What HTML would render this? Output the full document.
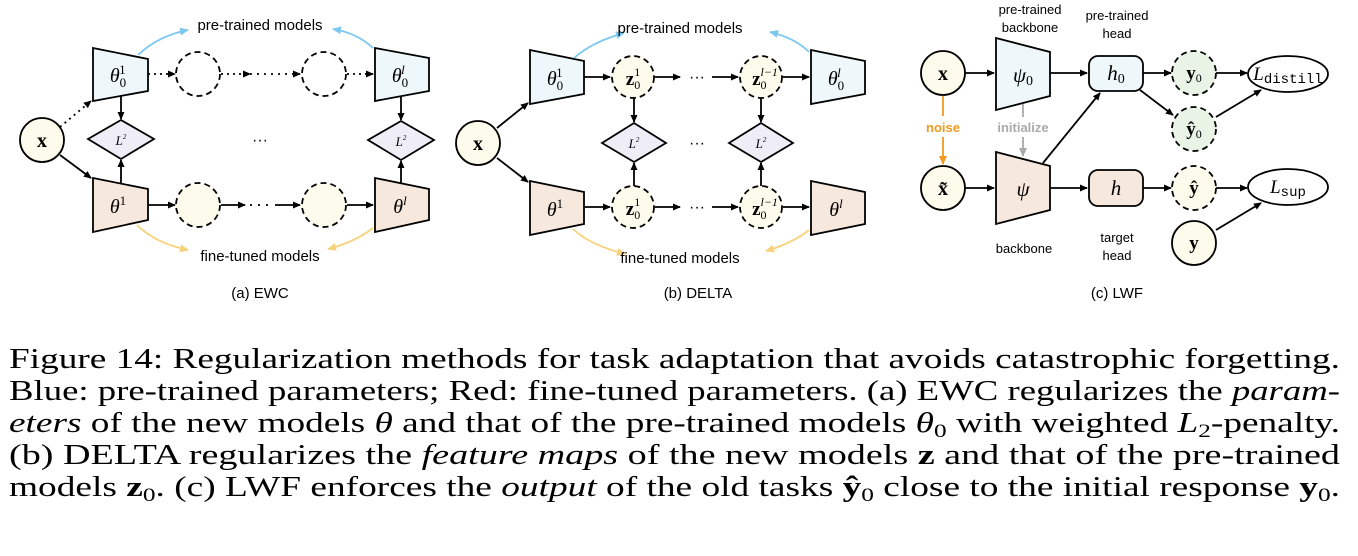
<!DOCTYPE html>
<html><head><meta charset="utf-8"><style>
html,body{margin:0;padding:0;background:#fff;}
svg{display:block;}
.s{font-family:"Liberation Sans",sans-serif;}
.m{font-family:"Liberation Serif",serif;font-style:italic;}
.b{font-family:"Liberation Serif",serif;font-weight:bold;}
.cap{font-family:"Liberation Serif",serif;font-size:28px;}
</style></head><body>
<svg width="1358" height="556" viewBox="0 0 1358 556" xmlns="http://www.w3.org/2000/svg">
<defs>
<marker id="a" markerWidth="8" markerHeight="8" refX="7" refY="4" orient="auto" markerUnits="userSpaceOnUse"><path d="M0,0.5 L8,4 L0,7.5 Z" fill="#000"/></marker>
<marker id="ab" markerWidth="10" markerHeight="10" refX="8" refY="5" orient="auto" markerUnits="userSpaceOnUse"><path d="M0,1 L9,5 L0,9 Z" fill="#7cc8f0"/></marker>
<marker id="ay" markerWidth="10" markerHeight="10" refX="8" refY="5" orient="auto" markerUnits="userSpaceOnUse"><path d="M0,1 L9,5 L0,9 Z" fill="#f8d27a"/></marker>
<marker id="ao" markerWidth="10" markerHeight="10" refX="8" refY="5" orient="auto" markerUnits="userSpaceOnUse"><path d="M0,1 L9,5 L0,9 Z" fill="#f39a1e"/></marker>
<marker id="ag" markerWidth="10" markerHeight="10" refX="8" refY="5" orient="auto" markerUnits="userSpaceOnUse"><path d="M0,1 L9,5 L0,9 Z" fill="#aaa"/></marker>
</defs>
<g stroke="#000" stroke-width="1.8" fill="none">
<!-- Panel a -->
<circle cx="42" cy="140" r="22" fill="#fdfbeb"/>
<polygon points="93,48 148,59 148,91 93,101" fill="#eef7fa"/>
<polygon points="375,48 429,58 429,91 375,101" fill="#eef7fa"/>
<polygon points="93,178 148,189 148,220 93,232" fill="#f7e8de"/>
<polygon points="375,178 429,189 429,220 375,232" fill="#f7e8de"/>
<circle cx="198" cy="74" r="22" stroke-dasharray="6,4"/>
<circle cx="324" cy="74" r="22" stroke-dasharray="6,4"/>
<circle cx="198" cy="205" r="22" fill="#fdfbeb" stroke-dasharray="6,4"/>
<circle cx="324" cy="205" r="22" fill="#fdfbeb" stroke-dasharray="6,4"/>
<polygon points="88,139 121,120 154,139 121,159" fill="#efedf5"/>
<polygon points="368,140 401,121 434,140 401,160" fill="#efedf5"/>
<line x1="60" y1="127" x2="91" y2="101" stroke-dasharray="2,4" marker-end="url(#a)"/>
<line x1="60" y1="155" x2="91" y2="178" marker-end="url(#a)"/>
<line x1="148" y1="74" x2="175" y2="74" stroke-dasharray="2,4" marker-end="url(#a)"/>
<line x1="221" y1="74" x2="250" y2="74" stroke-dasharray="2,4" marker-end="url(#a)"/>
<line x1="250" y1="74" x2="300" y2="74" stroke-dasharray="2,5" marker-end="url(#a)"/>
<line x1="347" y1="74" x2="373" y2="74" stroke-dasharray="2,4" marker-end="url(#a)"/>
<line x1="148" y1="205" x2="175" y2="205" marker-end="url(#a)"/>
<line x1="221" y1="205" x2="245" y2="205" marker-end="url(#a)"/>
<line x1="250" y1="205" x2="272" y2="205" stroke-dasharray="2,6"/>
<line x1="275" y1="205" x2="300" y2="205" marker-end="url(#a)"/>
<line x1="347" y1="205" x2="373" y2="205" marker-end="url(#a)"/>
<line x1="121" y1="96" x2="121" y2="119" marker-end="url(#a)"/>
<line x1="121" y1="183" x2="121" y2="160" marker-end="url(#a)"/>
<line x1="401" y1="96" x2="401" y2="120" marker-end="url(#a)"/>
<line x1="401" y1="183" x2="401" y2="161" marker-end="url(#a)"/>
<path d="M138,55 Q158,36 188,30" stroke="#7cc8f0" marker-end="url(#ab)"/>
<path d="M373,48 Q357,33 333,29" stroke="#7cc8f0" marker-end="url(#ab)"/>
<path d="M137,225 Q155,243 188,250" stroke="#f8d27a" marker-end="url(#ay)"/>
<path d="M373,228 Q355,242 328,249" stroke="#f8d27a" marker-end="url(#ay)"/>
<!-- Panel b -->
<circle cx="478" cy="143" r="22" fill="#fdfbeb"/>
<polygon points="530,50 584,61 584,94 530,104" fill="#eef7fa"/>
<polygon points="811,50 865,61 865,94 811,104" fill="#eef7fa"/>
<polygon points="530,181 584,192 584,224 530,235" fill="#f7e8de"/>
<polygon points="811,181 865,192 865,224 811,235" fill="#f7e8de"/>
<circle cx="633" cy="77" r="21" fill="#fdfbeb" stroke-dasharray="6,4"/>
<circle cx="761" cy="77" r="21" fill="#fdfbeb" stroke-dasharray="6,4"/>
<circle cx="633" cy="207" r="21" fill="#fdfbeb" stroke-dasharray="6,4"/>
<circle cx="761" cy="207" r="21" fill="#fdfbeb" stroke-dasharray="6,4"/>
<polygon points="602,143 634,123 666,143 634,162" fill="#efedf5"/>
<polygon points="729,143 761,123 793,143 761,162" fill="#efedf5"/>
<line x1="497" y1="128" x2="528" y2="103" marker-end="url(#a)"/>
<line x1="497" y1="158" x2="528" y2="182" marker-end="url(#a)"/>
<line x1="584" y1="77" x2="610" y2="77" marker-end="url(#a)"/>
<line x1="655" y1="77" x2="680" y2="77" marker-end="url(#a)"/>
<line x1="712" y1="77" x2="738" y2="77" marker-end="url(#a)"/>
<line x1="783" y1="77" x2="809" y2="77" marker-end="url(#a)"/>
<line x1="584" y1="207" x2="610" y2="207" marker-end="url(#a)"/>
<line x1="655" y1="207" x2="680" y2="207" marker-end="url(#a)"/>
<line x1="712" y1="207" x2="738" y2="207" marker-end="url(#a)"/>
<line x1="783" y1="207" x2="809" y2="207" marker-end="url(#a)"/>
<line x1="634" y1="98" x2="634" y2="122" marker-end="url(#a)"/>
<line x1="634" y1="186" x2="634" y2="163" marker-end="url(#a)"/>
<line x1="761" y1="98" x2="761" y2="122" marker-end="url(#a)"/>
<line x1="761" y1="186" x2="761" y2="163" marker-end="url(#a)"/>
<path d="M574,58 Q592,42 624,33" stroke="#7cc8f0" marker-end="url(#ab)"/>
<path d="M809,52 Q795,38 770,32" stroke="#7cc8f0" marker-end="url(#ab)"/>
<path d="M573,229 Q590,245 625,254" stroke="#f8d27a" marker-end="url(#ay)"/>
<path d="M809,230 Q793,243 766,251" stroke="#f8d27a" marker-end="url(#ay)"/>
<!-- Panel c -->
<circle cx="943" cy="73" r="22" fill="#fdfbeb"/>
<circle cx="943" cy="188" r="22" fill="#fdfbeb"/>
<polygon points="996,38 1050,52 1050,96 996,110" fill="#eef7fa"/>
<polygon points="996,152 1050,166 1050,210 996,224" fill="#f7e8de"/>
<rect x="1089" y="56" width="54" height="35" rx="9" fill="#eef7fa"/>
<rect x="1089" y="170" width="54" height="36" rx="9" fill="#f7e8de"/>
<circle cx="1194" cy="73" r="22" fill="#eaf4e6" stroke-dasharray="6,4"/>
<circle cx="1194" cy="129" r="22" fill="#eaf4e6" stroke-dasharray="6,4"/>
<circle cx="1194" cy="188" r="22" fill="#fdfbeb" stroke-dasharray="6,4"/>
<circle cx="1194" cy="243" r="22" fill="#fdfbeb"/>
<ellipse cx="1288" cy="74" rx="40" ry="18" fill="#fff"/>
<ellipse cx="1288" cy="187" rx="40" ry="18" fill="#fff"/>
<line x1="965" y1="73" x2="994" y2="73" marker-end="url(#a)"/>
<line x1="965" y1="188" x2="994" y2="188" marker-end="url(#a)"/>
<line x1="1050" y1="73" x2="1087" y2="73" marker-end="url(#a)"/>
<line x1="1050" y1="188" x2="1087" y2="188" marker-end="url(#a)"/>
<line x1="1043" y1="163" x2="1100" y2="93" marker-end="url(#a)"/>
<line x1="1143" y1="73" x2="1171" y2="73" marker-end="url(#a)"/>
<line x1="1140" y1="90" x2="1173" y2="115" marker-end="url(#a)"/>
<line x1="1143" y1="188" x2="1171" y2="188" marker-end="url(#a)"/>
<line x1="1216" y1="73" x2="1247" y2="73" marker-end="url(#a)"/>
<line x1="1216" y1="117" x2="1261" y2="90" marker-end="url(#a)"/>
<line x1="1216" y1="188" x2="1247" y2="188" marker-end="url(#a)"/>
<line x1="1216" y1="230" x2="1261" y2="203" marker-end="url(#a)"/>
<line x1="943" y1="96" x2="943" y2="116" stroke="#f39a1e"/>
<line x1="943" y1="137" x2="943" y2="164" stroke="#f39a1e" marker-end="url(#ao)"/>
<line x1="1023" y1="104" x2="1023" y2="117" stroke="#aaa"/>
<line x1="1023" y1="137" x2="1023" y2="156" stroke="#aaa" marker-end="url(#ag)"/>
</g>
<g fill="#000" text-anchor="middle">
<text class="s" x="260" y="30" font-size="15">pre-trained models</text>
<text class="s" x="260" y="261" font-size="15">fine-tuned models</text>
<text class="s" x="260" y="298" font-size="15">(a) EWC</text>
<text class="s" x="260" y="145" font-size="16">···</text>
<text class="b" x="42" y="147" font-size="20">x</text>
<text class="m" x="118" y="82" font-size="20">θ<tspan font-size="13" font-style="normal" dy="5">0</tspan><tspan font-size="13" font-style="normal" dx="-7" dy="-13">1</tspan></text>
<text class="m" x="400" y="82" font-size="20">θ<tspan font-size="13" font-style="normal" dy="5">0</tspan><tspan font-size="13" dx="-7" dy="-13">l</tspan></text>
<text class="m" x="118" y="213" font-size="20">θ<tspan font-size="13" font-style="normal" dy="-8">1</tspan></text>
<text class="m" x="400" y="213" font-size="20">θ<tspan font-size="13" dy="-8">l</tspan></text>
<text class="m" x="121" y="145" font-size="13">L<tspan font-size="7" dy="-6">2</tspan></text>
<text class="m" x="401" y="146" font-size="13">L<tspan font-size="7" dy="-6">2</tspan></text>
<text class="s" x="680" y="33" font-size="15">pre-trained models</text>
<text class="s" x="680" y="263" font-size="15">fine-tuned models</text>
<text class="s" x="698" y="298" font-size="15">(b) DELTA</text>
<text class="s" x="697" y="148" font-size="16">···</text>
<text class="s" x="697" y="82" font-size="16">···</text>
<text class="s" x="697" y="212" font-size="16">···</text>
<text class="b" x="478" y="150" font-size="20">x</text>
<text class="m" x="555" y="85" font-size="20">θ<tspan font-size="13" font-style="normal" dy="5">0</tspan><tspan font-size="13" font-style="normal" dx="-7" dy="-13">1</tspan></text>
<text class="m" x="836" y="85" font-size="20">θ<tspan font-size="13" font-style="normal" dy="5">0</tspan><tspan font-size="13" dx="-7" dy="-13">l</tspan></text>
<text class="m" x="555" y="216" font-size="20">θ<tspan font-size="13" font-style="normal" dy="-8">1</tspan></text>
<text class="m" x="836" y="216" font-size="20">θ<tspan font-size="13" dy="-8">l</tspan></text>
<text class="b" x="633" y="85" font-size="19">z<tspan font-size="12" font-weight="normal" dy="4">0</tspan><tspan font-size="12" font-weight="normal" dx="-6" dy="-13">1</tspan></text>
<text class="b" x="633" y="215" font-size="19">z<tspan font-size="12" font-weight="normal" dy="4">0</tspan><tspan font-size="12" font-weight="normal" dx="-6" dy="-13">1</tspan></text>
<text class="b" x="765" y="85" font-size="19">z<tspan font-size="12" font-weight="normal" dy="4">0</tspan><tspan font-size="12" font-weight="normal" font-style="italic" dx="-6" dy="-13">l−1</tspan></text>
<text class="b" x="765" y="215" font-size="19">z<tspan font-size="12" font-weight="normal" dy="4">0</tspan><tspan font-size="12" font-weight="normal" font-style="italic" dx="-6" dy="-13">l−1</tspan></text>
<text class="m" x="634" y="148" font-size="13">L<tspan font-size="7" dy="-6">2</tspan></text>
<text class="m" x="761" y="148" font-size="13">L<tspan font-size="7" dy="-6">2</tspan></text>
<text class="s" x="1030" y="14" font-size="13">pre-trained</text>
<text class="s" x="1030" y="32" font-size="13">backbone</text>
<text class="s" x="1117" y="20" font-size="13">pre-trained</text>
<text class="s" x="1117" y="38" font-size="13">head</text>
<text class="s" x="943" y="132" font-size="13" fill="#f39a1e" font-weight="bold">noise</text>
<text class="s" x="1023" y="132" font-size="13" fill="#aaa" font-weight="bold">initialize</text>
<text class="s" x="1024" y="253" font-size="13">backbone</text>
<text class="s" x="1117" y="242" font-size="13">target</text>
<text class="s" x="1117" y="260" font-size="13">head</text>
<text class="s" x="1117" y="298" font-size="15">(c) LWF</text>
<text class="b" x="943" y="80" font-size="20">x</text>
<text class="b" x="943" y="195" font-size="20">x̃</text>
<text class="m" x="1023" y="82" font-size="21">ψ<tspan font-size="14" font-style="normal" dy="3">0</tspan></text>
<text class="m" x="1023" y="196" font-size="21">ψ</text>
<text class="m" x="1116" y="80" font-size="21">h<tspan font-size="14" font-style="normal" dy="3">0</tspan></text>
<text class="m" x="1116" y="195" font-size="21">h</text>
<text class="b" x="1194" y="79" font-size="19">y<tspan font-size="12" font-weight="normal" dy="3">0</tspan></text>
<text class="b" x="1194" y="135" font-size="19">ŷ<tspan font-size="12" font-weight="normal" dy="3">0</tspan></text>
<text class="b" x="1194" y="194" font-size="19">ŷ</text>
<text class="b" x="1194" y="249" font-size="19">y</text>
<text class="m" x="1288" y="80" font-size="19">L<tspan font-size="14" font-style="normal" font-family="Liberation Mono" dy="3">distill</tspan></text>
<text class="m" x="1288" y="193" font-size="19">L<tspan font-size="14" font-style="normal" font-family="Liberation Mono" dy="3">sup</tspan></text>
</g>
<g class="cap" fill="#000">
<text x="9" y="368" textLength="1331" lengthAdjust="spacingAndGlyphs">Figure 14: Regularization methods for task adaptation that avoids catastrophic forgetting.</text>
<text x="9" y="400" textLength="1331" lengthAdjust="spacingAndGlyphs">Blue: pre-trained parameters; Red: fine-tuned parameters. (a) EWC regularizes the <tspan font-style="italic">param-</tspan></text>
<text x="9" y="432" textLength="1331" lengthAdjust="spacingAndGlyphs"><tspan font-style="italic">eters</tspan> of the new models <tspan font-style="italic">θ</tspan> and that of the pre-trained models <tspan font-style="italic">θ</tspan><tspan font-size="19" dy="5">0</tspan><tspan dy="-5"> with weighted </tspan><tspan font-style="italic">L</tspan><tspan font-size="19" dy="5">2</tspan><tspan dy="-5">-penalty.</tspan></text>
<text x="9" y="464" textLength="1331" lengthAdjust="spacingAndGlyphs">(b) DELTA regularizes the <tspan font-style="italic">feature maps</tspan> of the new models <tspan font-weight="bold">z</tspan> and that of the pre-trained</text>
<text x="9" y="496" textLength="1331" lengthAdjust="spacingAndGlyphs">models <tspan font-weight="bold">z</tspan><tspan font-size="19" dy="5">0</tspan><tspan dy="-5">. (c) LWF enforces the </tspan><tspan font-style="italic">output</tspan> of the old tasks <tspan font-weight="bold">ŷ</tspan><tspan font-size="19" dy="5">0</tspan><tspan dy="-5"> close to the initial response </tspan><tspan font-weight="bold">y</tspan><tspan font-size="19" dy="5">0</tspan><tspan dy="-5">.</tspan></text>
</g>
</svg>
</body></html>
